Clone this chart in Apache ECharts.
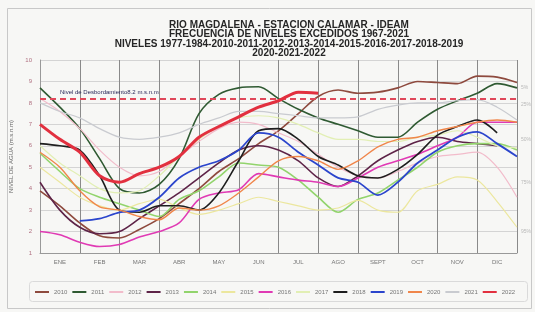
<!DOCTYPE html>
<html>
<head>
<meta charset="utf-8">
<script src="https://cdn.jsdelivr.net/npm/echarts@6/dist/echarts.min.js"></script>
<style>
html, body { margin: 0; padding: 0; background: #f7f7f5; }
#main { width: 535px; height: 312px; }
</style>
</head>
<body>
<div id="main"></div>
<script>
// meses (posicion en el eje: 0 = 1 ene, 12 = 31 dic), cada medio mes
var months = [0,0.5,1,1.5,2,2.5,3,3.5,4,4.5,5,5.5,6,6.5,7,7.5,8,8.5,9,9.5,10,10.5,11,11.5,12];
var monthLabels = ['ENE','FEB','MAR','ABR','MAY','JUN','JUL','AGO','SEPT','OCT','NOV','DIC'];
var years = ['2010','2011','2012','2013','2014','2015','2016','2017','2018','2019','2020','2021','2022'];

// niveles (m.s.n.m)
var y2010 = [3.9,3.2,2.4,1.8,1.7,2.1,2.6,3.3,4.0,4.8,5.4,6.1,6.7,7.5,8.3,8.6,8.45,8.5,8.7,9.0,8.95,8.9,9.25,9.2,8.95];
var y2011 = [8.7,7.8,6.8,5.4,4.0,3.8,4.2,5.4,7.5,8.4,8.7,8.75,8.2,7.7,7.3,7.0,6.7,6.4,6.4,7.1,7.7,8.1,8.45,8.9,8.7];
var y2012 = [8.2,7.6,6.8,5.8,5.0,4.6,4.8,5.5,6.2,6.8,7.1,7.0,6.6,6.2,5.6,5.0,4.6,4.5,4.8,5.2,5.5,5.6,5.7,5.0,3.6];
var y2013 = [4.3,3.0,2.2,1.9,2.0,2.6,3.2,3.8,4.5,5.2,5.8,6.0,5.8,5.3,4.5,4.1,4.6,5.3,5.8,6.2,6.4,6.2,6.1,6.0,null];
var y2014 = [5.65,4.8,4.0,3.6,3.3,3.0,2.7,3.5,3.9,4.55,5.2,5.1,5.0,4.4,3.6,2.9,3.5,3.8,4.4,5.0,5.7,6.0,6.1,6.1,5.8];
var y2015 = [5.0,4.3,3.6,3.2,3.0,3.3,3.5,3.1,2.8,3.0,3.3,3.6,3.4,3.2,3.0,3.1,3.45,3.0,2.9,3.9,4.2,4.55,4.4,3.4,2.2];
var y2016 = [2.0,1.85,1.5,1.3,1.4,1.75,2.0,2.4,3.5,3.8,3.95,4.7,4.55,4.4,4.3,4.1,4.5,5.0,5.3,5.6,6.0,6.4,7.1,7.1,7.1];
var y2017 = [6.0,5.2,4.6,4.0,3.8,3.9,4.6,5.5,6.3,6.9,7.3,7.4,7.3,7.0,6.6,6.3,6.3,6.2,6.2,6.4,6.5,6.7,6.4,6.0,5.9];
var y2018 = [6.1,6.0,5.8,4.6,3.0,2.9,3.2,3.2,3.0,3.8,5.3,6.7,6.8,6.3,5.5,5.1,4.6,4.5,4.9,5.6,6.5,6.9,7.2,6.6,null];
var y2019 = [null,null,2.5,2.6,2.9,3.0,3.6,4.5,5.0,5.3,5.8,6.6,6.4,5.7,5.1,4.5,4.3,3.7,4.3,5.2,5.8,6.4,6.65,6.1,5.5];
var y2020 = [5.7,5.0,3.9,3.15,3.0,2.7,2.55,3.1,3.0,3.2,3.8,4.55,5.3,5.5,5.3,4.9,5.3,5.95,6.3,6.4,6.7,6.9,7.1,7.2,7.1];
var y2021 = [8.0,7.6,7.3,6.8,6.4,6.3,6.4,6.6,7.0,7.3,7.6,7.6,7.5,7.4,7.3,7.3,7.35,7.7,7.9,8.0,8.0,8.1,8.15,7.8,7.2];
var y2022 = [7.0,6.3,5.7,4.6,4.3,4.7,5.0,5.5,6.4,6.9,7.35,7.8,8.1,8.5,8.45,null,null,null,null,null,null,null,null,null,null];

var yearValues = [y2010,y2011,y2012,y2013,y2014,y2015,y2016,y2017,y2018,y2019,y2020,y2021,y2022];
var colors = ['#8e4a3e','#2f5a32','#f2bccb','#5e2448','#92d46c','#ece79e','#e03ab4','#e2efb4','#1e1e1e','#2b45cc','#f0864a','#c9cbd0','#e2303f'];
var widths = [1.6,1.6,1.2,1.6,1.6,1.2,1.6,1.2,1.6,1.8,1.4,1.2,3];

var overflowLevel = 8.2;
var freqLabels = ['5%','25%','50%','75%','95%'];
var freqLevels = [8.7,7.9,6.3,4.3,2.0];

var series = years.map(function (yr, i) {
    return {
        name: yr,
        type: 'line',
        showSymbol: false,
        smooth: 0.3,
        connectNulls: false,
        data: months.map(function (m, j) { return [m, yearValues[i][j]]; }),
        lineStyle: { color: colors[i], width: widths[i] },
        itemStyle: { color: colors[i] },
        z: i === 12 ? 5 : 3
    };
});

// nivel de desbordamiento
series.push({
    type: 'line',
    data: [],
    markLine: {
        silent: true,
        symbol: 'none',
        data: [{ yAxis: overflowLevel }],
        lineStyle: { color: '#e0485a', type: [6, 4], width: 2 },
        label: {
            position: 'insideStartTop',
            formatter: 'Nivel de Desbordamiento8.2 m.s.n.m',
            fontSize: 6, color: '#2a2a5a', distance: [20, 3]
        }
    }
});

// etiquetas de frecuencia a la derecha
series.push({
    type: 'scatter',
    symbolSize: 0,
    data: freqLevels.map(function (v, i) { return { value: [12, v], label: { formatter: freqLabels[i] } }; }),
    label: { show: true, position: 'right', distance: 4, fontSize: 5, color: '#aaaaaa' },
    silent: true
});

var chart = echarts.init(document.getElementById('main'));
chart.setOption({
    backgroundColor: '#f7f7f5',
    animation: false,
    title: {
        text: 'RIO MAGDALENA - ESTACION CALAMAR - IDEAM\nFRECUENCIA DE NIVELES EXCEDIDOS 1967-2021\nNIVELES 1977-1984-2010-2011-2012-2013-2014-2015-2016-2017-2018-2019\n2020-2021-2022',
        left: 284, top: 15, textAlign: 'center',
        textStyle: { fontSize: 10, fontWeight: 'bold', lineHeight: 9.5, color: '#262626', fontFamily: 'Liberation Sans' }
    },
    legend: {
        data: years,
        left: 30, top: 284,
        itemWidth: 14, itemHeight: 2, itemGap: 5, icon: 'rect',
        textStyle: { fontSize: 6, color: '#777' }
    },
    grid: { left: 40, right: 18, top: 60, bottom: 59 },
    xAxis: [{
        type: 'value', min: 0, max: 12, interval: 1,
        axisLabel: { show: false }, axisTick: { show: false },
        axisLine: { show: true, lineStyle: { color: '#999' } },
        splitLine: { show: true, lineStyle: { color: '#8a8a8a', width: 1 } }
    }, {
        type: 'category', data: monthLabels, position: 'bottom', boundaryGap: true,
        axisLine: { show: false }, axisTick: { show: false },
        axisLabel: { fontSize: 6, color: '#777', margin: 6 }
    }],
    yAxis: {
        type: 'value', min: 1, max: 10, interval: 1,
        name: 'NIVEL DE AGUA (m.s.n.m)', nameLocation: 'middle', nameGap: 20,
        nameTextStyle: { fontSize: 6, color: '#666' },
        axisLine: { show: true, lineStyle: { color: '#999' } },
        axisTick: { show: false },
        axisLabel: { fontSize: 6, color: '#b07080', margin: 8 },
        splitLine: { lineStyle: { color: '#d4d4d4' } }
    },
    graphic: [
        { type: 'rect', left: 5, top: 6, shape: { width: 524, height: 300 }, style: { fill: 'none', stroke: '#c8c8c8', lineWidth: 1 }, silent: true },
        { type: 'rect', left: 27, top: 279, shape: { width: 498, height: 20, r: 3 }, style: { fill: 'none', stroke: '#dadada', lineWidth: 1 }, silent: true }
    ],
    series: series
});
</script>
</body>
</html>
